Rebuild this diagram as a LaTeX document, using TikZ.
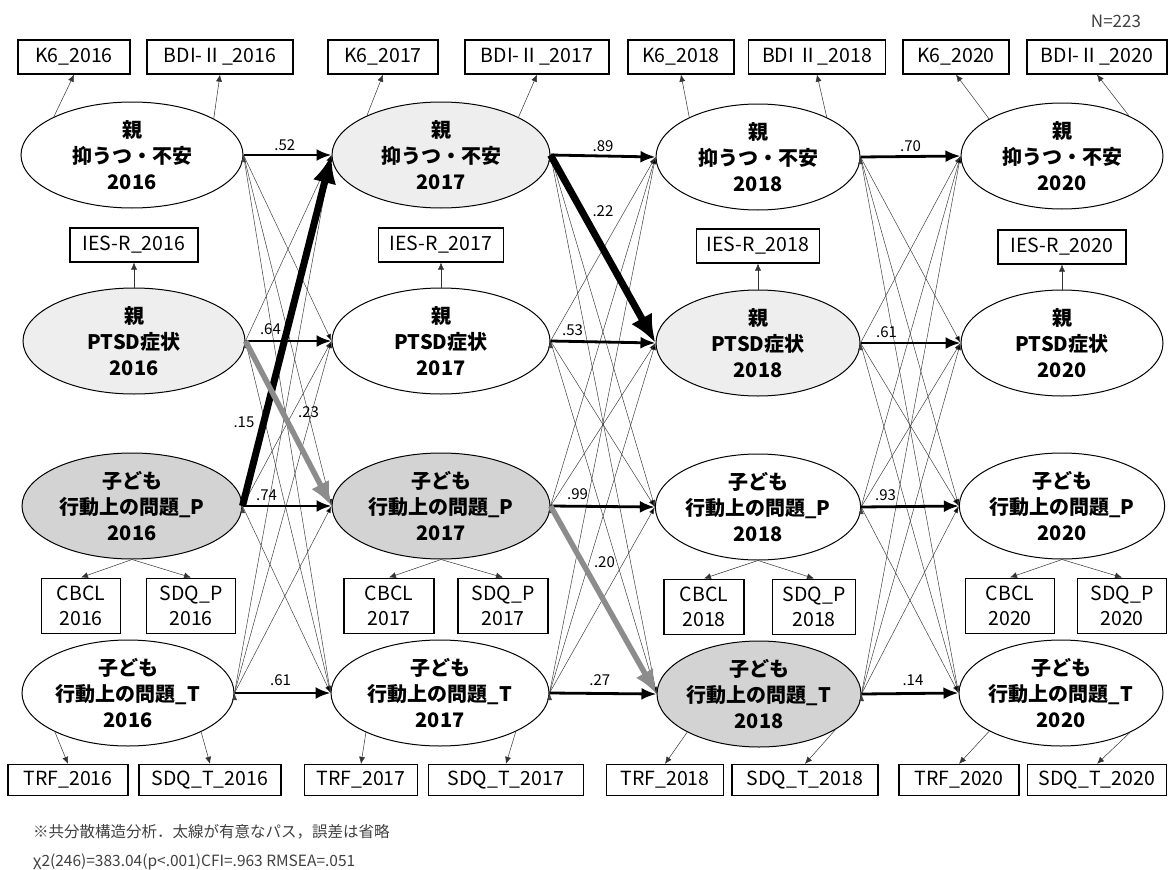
\documentclass[tikz,border=0pt]{standalone}
\usepackage{fontspec}
\setmainfont{Noto Sans CJK JP}
\usetikzlibrary{shapes.geometric,arrows.meta,positioning}

\definecolor{lightfill}{HTML}{EEEEEE}
\definecolor{midfill}{HTML}{D3D3D3}
\definecolor{sigrey}{HTML}{8C8C8C}

\tikzset{
  latent/.style={ellipse, draw, line width=1pt, align=center, inner sep=0pt,
    minimum height=106pt, font=\bfseries\fontsize{20}{26}\selectfont},
  obsbox/.style={rectangle, draw, line width=1.3pt, align=center, inner sep=0pt,
    minimum height=34pt, font=\fontsize{19.5}{25}\selectfont},
  twoline/.style={obsbox, minimum height=55pt},
  coef/.style={font=\fontsize{15}{15}\selectfont, inner sep=1pt},
  note/.style={font=\fontsize{15.5}{18}\selectfont, text=black!75, inner sep=0pt},
  load/.style={-{Latex[length=7pt,width=6pt]}, line width=0.5pt, draw=black!80},
  cross/.style={-{Latex[length=7pt,width=5pt]}, line width=0.5pt, draw=black!75},
  stab/.style={-{Latex[length=15pt,width=12pt]}, line width=2.8pt},
  sigblack/.style={-{Latex[length=28pt,width=24pt]}, line width=7pt},
  siggrey/.style={-{Latex[length=24pt,width=20pt]}, line width=5.5pt, draw=sigrey},
}

\begin{document}
\begin{tikzpicture}[x=1pt,y=-1pt]
  \useasboundingbox (0,0) rectangle (1168,870);

  % Define nodes
  \node[latent, minimum width=222pt] (dep16) at (132,155) {親\\抑うつ・不安\\2016};
  \node[latent, minimum width=218pt, fill=lightfill] (dep17) at (441,155) {親\\抑うつ・不安\\2017};
  \node[latent, minimum width=204pt] (dep18) at (758,157) {親\\抑うつ・不安\\2018};
  \node[latent, minimum width=202pt] (dep20) at (1062,156) {親\\抑うつ・不安\\2020};

  \node[latent, minimum width=222pt, fill=lightfill] (ptsd16) at (134,341) {親\\PTSD症状\\2016};
  \node[latent, minimum width=218pt] (ptsd17) at (441,341) {親\\PTSD症状\\2017};
  \node[latent, minimum width=204pt, fill=lightfill] (ptsd18) at (758,343) {親\\PTSD症状\\2018};
  \node[latent, minimum width=202pt] (ptsd20) at (1062,343) {親\\PTSD症状\\2020};

  \node[latent, minimum width=220pt, fill=midfill] (chp16) at (132,506) {子ども\\行動上の問題\_P\\2016};
  \node[latent, minimum width=218pt, fill=midfill] (chp17) at (441,506) {子ども\\行動上の問題\_P\\2017};
  \node[latent, minimum width=204pt] (chp18) at (758,507) {子ども\\行動上の問題\_P\\2018};
  \node[latent, minimum width=202pt] (chp20) at (1062,506) {子ども\\行動上の問題\_P\\2020};

  \node[latent, minimum width=212pt] (cht16) at (128,693) {子ども\\行動上の問題\_T\\2016};
  \node[latent, minimum width=218pt] (cht17) at (440,693) {子ども\\行動上の問題\_T\\2017};
  \node[latent, minimum width=204pt, fill=midfill] (cht18) at (759,694) {子ども\\行動上の問題\_T\\2018};
  \node[latent, minimum width=202pt] (cht20) at (1061,693) {子ども\\行動上の問題\_T\\2020};

  % Indicators
  \node[obsbox, minimum width=112pt] (k616) at (74,57) {K6\_2016};
  \node[obsbox, minimum width=146pt] (bdi16) at (220,57) {BDI-Ⅱ\_2016};
  \node[obsbox, minimum width=110pt] (k617) at (383,57) {K6\_2017};
  \node[obsbox, minimum width=144pt] (bdi17) at (537,57) {BDI-Ⅱ\_2017};
  \node[obsbox, minimum width=106pt] (k618) at (681,57) {K6\_2018};
  \node[obsbox, minimum width=137pt] (bdi18) at (817,57) {BDI Ⅱ\_2018};
  \node[obsbox, minimum width=106pt] (k620) at (956,57) {K6\_2020};
  \node[obsbox, minimum width=140pt] (bdi20) at (1097,57) {BDI-Ⅱ\_2020};

  \node[obsbox, minimum width=128pt, above=25pt of ptsd16] (ies16) {IES-R\_2016};
  \node[obsbox, minimum width=125pt, above=25pt of ptsd17] (ies17) {IES-R\_2017};
  \node[obsbox, minimum width=123pt, above=26pt of ptsd18] (ies18) {IES-R\_2018};
  \node[obsbox, minimum width=128pt, above=25pt of ptsd20] (ies20) {IES-R\_2020};

  \node[twoline, minimum width=79pt, below=18pt of chp16, xshift=-51pt] (cbcl16) {CBCL\\2016};
  \node[twoline, minimum width=89pt, below=18pt of chp16, xshift=59pt] (sdqp16) {SDQ\_P\\2016};
  \node[twoline, minimum width=90pt, below=18pt of chp17, xshift=-52pt] (cbcl17) {CBCL\\2017};
  \node[twoline, minimum width=90pt, below=18pt of chp17, xshift=62pt] (sdqp17) {SDQ\_P\\2017};
  \node[twoline, minimum width=80pt, below=18pt of chp18, xshift=-54pt] (cbcl18) {CBCL\\2018};
  \node[twoline, minimum width=83pt, below=18pt of chp18, xshift=56pt] (sdqp18) {SDQ\_P\\2018};
  \node[twoline, minimum width=89pt, below=18pt of chp20, xshift=-52pt] (cbcl20) {CBCL\\2020};
  \node[twoline, minimum width=89pt, below=18pt of chp20, xshift=60pt] (sdqp20) {SDQ\_P\\2020};

  \node[obsbox, minimum width=120pt, minimum height=31pt] (trf16) at (68,780) {TRF\_2016};
  \node[obsbox, minimum width=142pt, minimum height=31pt] (sdqt16) at (210,780) {SDQ\_T\_2016};
  \node[obsbox, minimum width=113pt, minimum height=31pt] (trf17) at (361,780) {TRF\_2017};
  \node[obsbox, minimum width=155pt, minimum height=31pt] (sdqt17) at (506,780) {SDQ\_T\_2017};
  \node[obsbox, minimum width=117pt, minimum height=31pt] (trf18) at (665,780) {TRF\_2018};
  \node[obsbox, minimum width=146pt, minimum height=31pt] (sdqt18) at (805,780) {SDQ\_T\_2018};
  \node[obsbox, minimum width=120pt, minimum height=31pt] (trf20) at (959,780) {TRF\_2020};
  \node[obsbox, minimum width=139pt, minimum height=31pt] (sdqt20) at (1097,780) {SDQ\_T\_2020};

  \node[note, font=\fontsize{17}{18}\selectfont] (nsize) at (1116,21) {N=223};
  \node[note, anchor=west] (note1) at (33,832) {※共分散構造分析．太線が有意なパス，誤差は省略};
  \node[note, anchor=west] (note2) at (33,862) {χ2(246)=383.04(p<.001)CFI=.963 RMSEA=.051};

  % Connect the indicators
  \draw[load] (dep16.154) -- (k616.south);
  \draw[load] (dep16.24) -- (bdi16.south);
  \draw[load] (dep17.152) -- (k617.south);
  \draw[load] (dep17.26) -- (bdi17.south);
  \draw[load] (dep18.150) -- (k618.south);
  \draw[load] (dep18.30) -- (bdi18.south);
  \draw[load] (dep20.153) -- (k620.south);
  \draw[load] (dep20.31) -- (bdi20.south);

  \draw[load] (ptsd16.north) -- (ies16.south);
  \draw[load] (ptsd17.north) -- (ies17.south);
  \draw[load] (ptsd18.north) -- (ies18.south);
  \draw[load] (ptsd20.north) -- (ies20.south);

  \draw[load] (chp16.south) -- (cbcl16.north);
  \draw[load] (chp16.south) -- (sdqp16.north);
  \draw[load] (chp17.south) -- (cbcl17.north);
  \draw[load] (chp17.south) -- (sdqp17.north);
  \draw[load] (chp18.south) -- (cbcl18.north);
  \draw[load] (chp18.south) -- (sdqp18.north);
  \draw[load] (chp20.south) -- (cbcl20.north);
  \draw[load] (chp20.south) -- (sdqp20.north);

  \draw[load] (cht16.208) -- (trf16.north);
  \draw[load] (cht16.332) -- (sdqt16.north);
  \draw[load] (cht17.208) -- (trf17.north);
  \draw[load] (cht17.333) -- (sdqt17.north);
  \draw[load] (cht18.208) -- (trf18.north);
  \draw[load] (cht18.335) -- (sdqt18.north);
  \draw[load] (cht20.208) -- (trf20.north);
  \draw[load] (cht20.330) -- (sdqt20.north);

  % Cross-lagged paths, n.s.
  \path[cross] (dep16.east) edge (ptsd17.west) edge (chp17.west) edge (cht17.west);
  \path[cross] (ptsd16.east) edge (dep17.west) edge (cht17.west);
  \path[cross] (chp16.east) edge (ptsd17.west) edge (cht17.west);
  \path[cross] (cht16.east) edge (dep17.west) edge (ptsd17.west) edge (chp17.west);

  \path[cross] (dep17.east) edge (chp18.west) edge (cht18.west);
  \path[cross] (ptsd17.east) edge (dep18.west) edge (chp18.west) edge (cht18.west);
  \path[cross] (chp17.east) edge (dep18.west) edge (ptsd18.west);
  \path[cross] (cht17.east) edge (dep18.west) edge (ptsd18.west) edge (chp18.west);

  \path[cross] (dep18.east) edge (ptsd20.west) edge (chp20.west) edge (cht20.west);
  \path[cross] (ptsd18.east) edge (dep20.west) edge (chp20.west) edge (cht20.west);
  \path[cross] (chp18.east) edge (dep20.west) edge (ptsd20.west) edge (cht20.west);
  \path[cross] (cht18.east) edge (dep20.west) edge (ptsd20.west) edge (chp20.west);

  % Stability paths
  \draw[stab] (dep16.east) -- (dep17.west) node[coef, pos=.47, above=2pt] {.52};
  \draw[stab] (dep17.east) -- (dep18.west) node[coef, pos=.5, above=2pt] {.89};
  \draw[stab] (dep18.east) -- (dep20.west) node[coef, pos=.5, above=2pt] {.70};
  \draw[stab] (ptsd16.east) -- (ptsd17.west) node[coef, pos=.29, above=4pt] {.64};
  \draw[stab] (ptsd17.east) -- (ptsd18.west) node[coef, pos=.21, above=3pt] {.53};
  \draw[stab] (ptsd18.east) -- (ptsd20.west) node[coef, pos=.26, above=3pt] {.61};
  \draw[stab] (chp16.east) -- (chp17.west) node[coef, pos=.27, above=3pt] {.74};
  \draw[stab] (chp17.east) -- (chp18.west) node[coef, pos=.26, above=4pt] {.99};
  \draw[stab] (chp18.east) -- (chp20.west) node[coef, pos=.25, above=4pt] {.93};
  \draw[stab] (cht16.east) -- (cht17.west) node[coef, pos=.48, above=5pt] {.61};
  \draw[stab] (cht17.east) -- (cht18.west) node[coef, pos=.47, above=5pt] {.27};
  \draw[stab] (cht18.east) -- (cht20.west) node[coef, pos=.53, above=5pt] {.14};

  % Significant cross-lagged paths
  \draw[sigblack] (chp16.east) -- (dep17.west) node[coef, pos=.24, left=5pt] {.15};
  \draw[siggrey] (ptsd16.east) -- (chp17.west) node[coef, pos=.43, right=12pt] {.23};
  \draw[sigblack] (dep17.east) -- (ptsd18.west) node[coef, pos=.3, right=6pt] {.22};
  \draw[siggrey] (chp17.east) -- (cht18.west) node[coef, pos=.3, right=8pt] {.20};
\end{tikzpicture}
\end{document}
